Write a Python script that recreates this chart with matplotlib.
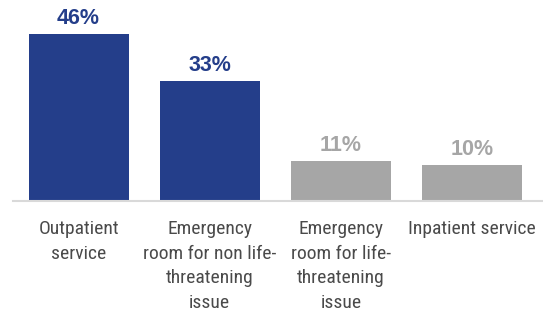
import matplotlib
matplotlib.use("Agg")
import matplotlib.pyplot as plt

categories = ["Outpatient\nservice",
              "Emergency\nroom for non life-\nthreatening\nissue",
              "Emergency\nroom for life-\nthreatening\nissue",
              "Inpatient service"]
values = [46, 33, 11, 10]
value_labels = ["46%", "33%", "11%", "10%"]

blue = "#243E8A"
gray = "#A6A6A6"
colors = [blue, blue, gray, gray]

fig = plt.figure(figsize=(5.43, 3.16), dpi=100)
ax = fig.add_axes([13/543, 1 - 201/316, 530/543, 182/316])
x = list(range(len(categories)))
bars = ax.bar(x, values, width=0.763, color=colors)
ax.set_xlim(-0.5, 3.54)
ax.set_ylim(0, 182/3.63)

for b, lab, c in zip(bars, value_labels, colors):
    ax.annotate(lab, (b.get_x() + b.get_width()/2, b.get_height()),
                xytext=(0, 3.5), textcoords="offset points",
                ha="center", va="bottom", fontsize=15.5, fontweight="bold",
                color=c, family="Liberation Sans")

for s in ["top", "left", "right"]:
    ax.spines[s].set_visible(False)
ax.spines["bottom"].set_color("#D9D9D9")
ax.spines["bottom"].set_linewidth(1.5)
ax.set_yticks([])
ax.set_xticks(x)
ax.set_xticklabels(categories, fontsize=14, color="#4A4A4A",
                   family=["Roboto Condensed", "Liberation Sans"],
                   linespacing=1.46, va="top")
ax.tick_params(axis="x", length=0, pad=14)

fig.savefig("out.png", dpi=100)
